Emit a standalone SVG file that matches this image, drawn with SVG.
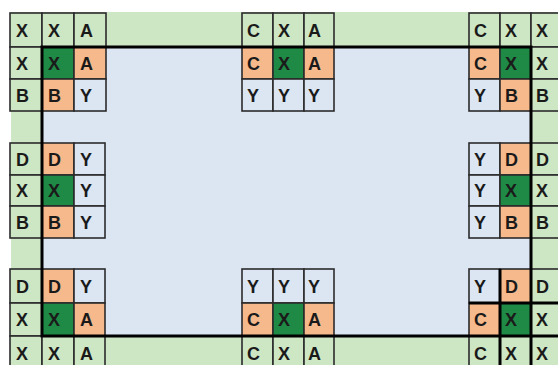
<svg xmlns="http://www.w3.org/2000/svg" width="558" height="365" viewBox="0 0 558 365">
<style>
.lg{fill:#cde7c5;stroke:#2b2b2b;stroke-width:1.6}
.dg{fill:#1f8a45;stroke:#2b2b2b;stroke-width:1.6}
.or{fill:#f6b98c;stroke:#2b2b2b;stroke-width:1.6}
.bl{fill:#dce6f2;stroke:#2b2b2b;stroke-width:1.6}
text{font-family:"Liberation Sans",Arial,sans-serif;font-weight:bold;font-size:18px;fill:#1a1a1a}
.thick{stroke:#000;stroke-width:3;fill:none}
</style>
<rect x="0" y="0" width="558" height="365" fill="#fff"/>
<g id="background">
<rect x="11" y="12" width="560" height="360" fill="#cde7c5"/>
<rect x="42" y="47" width="489" height="289" fill="#dce6f2"/>
</g>
<g id="block-tl">
<rect class="lg" x="10" y="13" width="32" height="34"/><rect class="lg" x="42" y="13" width="32" height="34"/><rect class="lg" x="74" y="13" width="32" height="34"/>
<rect class="lg" x="10" y="47" width="32" height="32"/><rect class="dg" x="42" y="47" width="32" height="32"/><rect class="or" x="74" y="47" width="32" height="32"/>
<rect class="lg" x="10" y="79" width="32" height="32"/><rect class="or" x="42" y="79" width="32" height="32"/><rect class="bl" x="74" y="79" width="32" height="32"/>
<text x="16" y="37">X</text><text x="48" y="37">X</text><text x="80" y="37">A</text>
<text x="16" y="70">X</text><text x="48" y="70">X</text><text x="80" y="70">A</text>
<text x="16" y="102">B</text><text x="48" y="102">B</text><text x="80" y="102">Y</text>
</g>
<g id="block-tm">
<rect class="lg" x="242" y="13" width="31" height="34"/><rect class="lg" x="273" y="13" width="31" height="34"/><rect class="lg" x="304" y="13" width="30" height="34"/>
<rect class="or" x="242" y="47" width="31" height="32"/><rect class="dg" x="273" y="47" width="31" height="32"/><rect class="or" x="304" y="47" width="30" height="32"/>
<rect class="bl" x="242" y="79" width="31" height="32"/><rect class="bl" x="273" y="79" width="31" height="32"/><rect class="bl" x="304" y="79" width="30" height="32"/>
<text x="247" y="37">C</text><text x="278" y="37">X</text><text x="308" y="37">A</text>
<text x="247" y="70">C</text><text x="278" y="70">X</text><text x="308" y="70">A</text>
<text x="247" y="102">Y</text><text x="278" y="102">Y</text><text x="308" y="102">Y</text>
</g>
<g id="block-tr">
<rect class="lg" x="469" y="13" width="31" height="34"/><rect class="lg" x="500" y="13" width="31" height="34"/><rect class="lg" x="531" y="13" width="31" height="34"/>
<rect class="or" x="469" y="47" width="31" height="32"/><rect class="dg" x="500" y="47" width="31" height="32"/><rect class="lg" x="531" y="47" width="31" height="32"/>
<rect class="bl" x="469" y="79" width="31" height="32"/><rect class="or" x="500" y="79" width="31" height="32"/><rect class="lg" x="531" y="79" width="31" height="32"/>
<text x="474" y="37">C</text><text x="505" y="37">X</text><text x="536" y="37">X</text>
<text x="474" y="70">C</text><text x="505" y="70">X</text><text x="536" y="70">X</text>
<text x="474" y="102">Y</text><text x="505" y="102">B</text><text x="536" y="102">B</text>
</g>
<g id="block-ml">
<rect class="lg" x="10" y="143" width="32" height="32"/><rect class="or" x="42" y="143" width="32" height="32"/><rect class="bl" x="74" y="143" width="31" height="32"/>
<rect class="lg" x="10" y="175" width="32" height="31"/><rect class="dg" x="42" y="175" width="32" height="31"/><rect class="bl" x="74" y="175" width="31" height="31"/>
<rect class="lg" x="10" y="206" width="32" height="32"/><rect class="or" x="42" y="206" width="32" height="32"/><rect class="bl" x="74" y="206" width="31" height="32"/>
<text x="16" y="166">D</text><text x="48" y="166">D</text><text x="80" y="166">Y</text>
<text x="16" y="197">X</text><text x="48" y="197">X</text><text x="80" y="197">Y</text>
<text x="16" y="229">B</text><text x="48" y="229">B</text><text x="80" y="229">Y</text>
</g>
<g id="block-mr">
<rect class="bl" x="469" y="143" width="31" height="32"/><rect class="or" x="500" y="143" width="31" height="32"/><rect class="lg" x="531" y="143" width="31" height="32"/>
<rect class="bl" x="469" y="175" width="31" height="31"/><rect class="dg" x="500" y="175" width="31" height="31"/><rect class="lg" x="531" y="175" width="31" height="31"/>
<rect class="bl" x="469" y="206" width="31" height="32"/><rect class="or" x="500" y="206" width="31" height="32"/><rect class="lg" x="531" y="206" width="31" height="32"/>
<text x="474" y="166">Y</text><text x="505" y="166">D</text><text x="536" y="166">D</text>
<text x="474" y="197">Y</text><text x="505" y="197">X</text><text x="536" y="197">X</text>
<text x="474" y="229">Y</text><text x="505" y="229">B</text><text x="536" y="229">B</text>
</g>
<g id="block-bl">
<rect class="lg" x="10" y="269" width="32" height="34"/><rect class="or" x="42" y="269" width="32" height="34"/><rect class="bl" x="74" y="269" width="31" height="34"/>
<rect class="lg" x="10" y="303" width="32" height="33"/><rect class="dg" x="42" y="303" width="32" height="33"/><rect class="or" x="74" y="303" width="31" height="33"/>
<rect class="lg" x="10" y="336" width="32" height="33"/><rect class="lg" x="42" y="336" width="32" height="33"/><rect class="lg" x="74" y="336" width="31" height="33"/>
<text x="16" y="293">D</text><text x="48" y="293">D</text><text x="80" y="293">Y</text>
<text x="16" y="326">X</text><text x="48" y="326">X</text><text x="80" y="326">A</text>
<text x="16" y="360">X</text><text x="48" y="360">X</text><text x="80" y="360">A</text>
</g>
<g id="block-bm">
<rect class="bl" x="242" y="269" width="31" height="34"/><rect class="bl" x="273" y="269" width="31" height="34"/><rect class="bl" x="304" y="269" width="30" height="34"/>
<rect class="or" x="242" y="303" width="31" height="33"/><rect class="dg" x="273" y="303" width="31" height="33"/><rect class="or" x="304" y="303" width="30" height="33"/>
<rect class="lg" x="242" y="336" width="31" height="33"/><rect class="lg" x="273" y="336" width="31" height="33"/><rect class="lg" x="304" y="336" width="30" height="33"/>
<text x="247" y="293">Y</text><text x="278" y="293">Y</text><text x="308" y="293">Y</text>
<text x="247" y="326">C</text><text x="278" y="326">X</text><text x="308" y="326">A</text>
<text x="247" y="360">C</text><text x="278" y="360">X</text><text x="308" y="360">A</text>
</g>
<g id="block-br">
<rect class="bl" x="469" y="269" width="31" height="34"/><rect class="or" x="500" y="269" width="31" height="34"/><rect class="lg" x="531" y="269" width="31" height="34"/>
<rect class="or" x="469" y="303" width="31" height="33"/><rect class="dg" x="500" y="303" width="31" height="33"/><rect class="lg" x="531" y="303" width="31" height="33"/>
<rect class="lg" x="469" y="336" width="31" height="33"/><rect class="lg" x="500" y="336" width="31" height="33"/><rect class="lg" x="531" y="336" width="31" height="33"/>
<text x="474" y="293">Y</text><text x="505" y="293">D</text><text x="536" y="293">D</text>
<text x="474" y="326">C</text><text x="505" y="326">X</text><text x="536" y="326">X</text>
<text x="474" y="360">C</text><text x="505" y="360">X</text><text x="536" y="360">X</text>
</g>
<g id="connectors">
<rect class="thick" x="42" y="47" width="489" height="289"/>
<line class="thick" x1="531" y1="336" x2="531" y2="370"/>
<line class="thick" x1="531" y1="336" x2="560" y2="336"/>
<line class="thick" x1="500" y1="269" x2="500" y2="370"/>
<line class="thick" x1="469" y1="303" x2="560" y2="303"/>
</g>
</svg>
